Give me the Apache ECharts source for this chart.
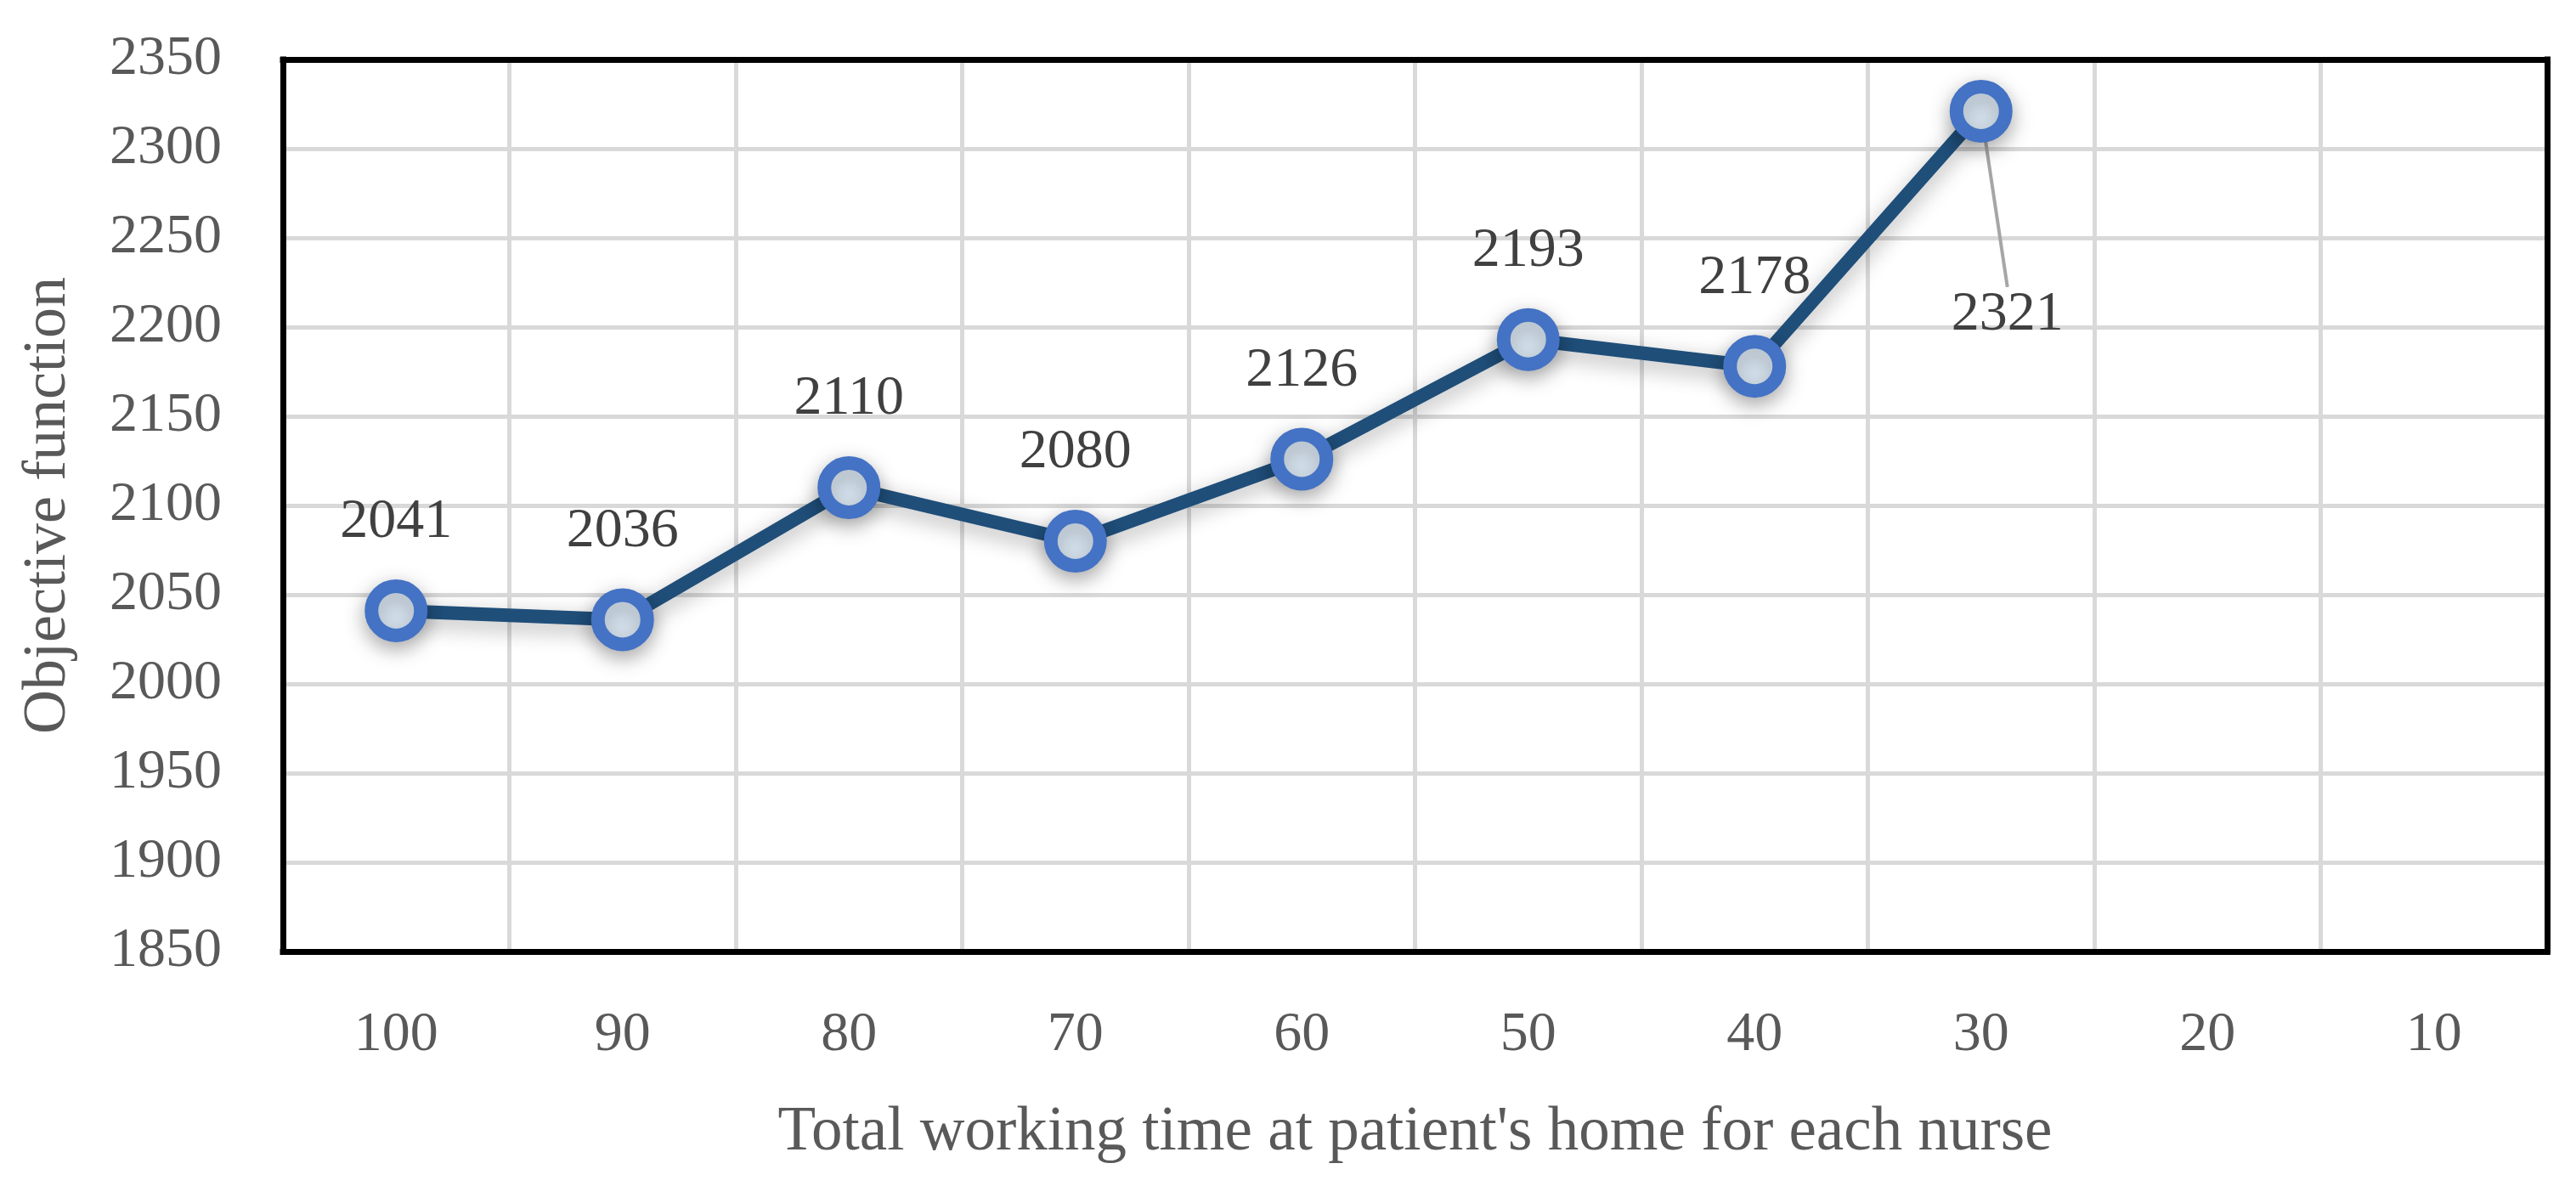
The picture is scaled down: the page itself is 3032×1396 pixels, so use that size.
<!DOCTYPE html>
<html>
<head>
<meta charset="utf-8">
<script src="https://cdn.jsdelivr.net/npm/echarts@6/dist/echarts.min.js"></script>
<style>
  html, body { margin: 0; padding: 0; background: #fff; }
  #chart { width: 3032px; height: 1396px; }
</style>
</head>
<body>
<div id="chart"></div>
<script>
// 数据
const categories = ['100', '90', '80', '70', '60', '50', '40', '30', '20', '10'];
const objectiveValues = [2041, 2036, 2110, 2080, 2126, 2193, 2178, 2321];
const yTicks = { min: 1850, max: 2350, step: 50 };

const fontFamily = '"Palatino Linotype", "Book Antiqua", "Liberation Serif", serif';
const frameLine = { show: true, lineStyle: { color: '#000', width: 7, cap: 'square' } };

const chart = echarts.init(document.getElementById('chart'));

// 最后一个点的标签放在右下方，带引导线
const seriesData = objectiveValues.map((v, i) => {
  if (i === objectiveValues.length - 1) {
    return { value: v, labelLine: { show: true } };
  }
  return v;
});

const option = {
  animation: false,
  grid: {
    left: 333,
    right: 34,
    top: 70,
    bottom: 276
  },
  xAxis: [{
    type: 'category',
    data: categories,
    boundaryGap: true,
    name: "Total working time at patient's home for each nurse",
    nameLocation: 'middle',
    nameGap: 177,
    nameTextStyle: { fontFamily, fontSize: 73, color: '#595959' },
    axisLine: { show: false },
    axisTick: { show: false },
    axisLabel: { fontFamily, fontSize: 66, color: '#595959', margin: 66 },
    splitLine: { show: true, lineStyle: { color: '#d9d9d9', width: 5 } }
  }, {
    // 边框：底部
    type: 'category',
    data: categories,
    position: 'bottom',
    axisLine: frameLine,
    axisTick: { show: false },
    axisLabel: { show: false },
    splitLine: { show: false },
    z: 5
  }, {
    // 边框：顶部
    type: 'category',
    data: categories,
    position: 'top',
    axisLine: frameLine,
    axisTick: { show: false },
    axisLabel: { show: false },
    splitLine: { show: false },
    z: 5
  }],
  yAxis: [{
    type: 'value',
    min: yTicks.min,
    max: yTicks.max,
    interval: yTicks.step,
    name: 'Objective function',
    nameLocation: 'middle',
    nameGap: 240,
    nameTextStyle: { fontFamily, fontSize: 72, color: '#595959' },
    axisLine: { show: false },
    axisTick: { show: false },
    axisLabel: {
      fontFamily, fontSize: 66, color: '#595959', margin: 72,
      formatter: (v) => String(v)
    },
    splitLine: { show: true, lineStyle: { color: '#d9d9d9', width: 5 } }
  }, {
    // 边框：左侧
    type: 'value',
    min: yTicks.min,
    max: yTicks.max,
    interval: yTicks.step,
    position: 'left',
    axisLine: frameLine,
    axisTick: { show: false },
    axisLabel: { show: false },
    splitLine: { show: false },
    z: 5
  }, {
    // 边框：右侧
    type: 'value',
    min: yTicks.min,
    max: yTicks.max,
    interval: yTicks.step,
    position: 'right',
    axisLine: frameLine,
    axisTick: { show: false },
    axisLabel: { show: false },
    splitLine: { show: false },
    z: 5
  }],
  series: [{
    type: 'line',
    data: seriesData,
    symbol: 'circle',
    symbolSize: 58,
    lineStyle: {
      color: '#1f4e79',
      width: 16,
      shadowColor: 'rgba(0,0,0,0.3)',
      shadowBlur: 26,
      shadowOffsetY: 8
    },
    itemStyle: {
      color: '#deebf7',
      borderColor: '#4472c4',
      borderWidth: 16,
      shadowColor: 'rgba(0,0,0,0.3)',
      shadowBlur: 26,
      shadowOffsetY: 8
    },
    label: {
      show: true,
      position: 'top',
      distance: 34,
      fontFamily,
      fontSize: 66,
      color: '#404040'
    },
    labelLine: {
      lineStyle: { color: '#a6a6a6', width: 4 }
    },
    labelLayout: (params) => {
      if (params.dataIndex === objectiveValues.length - 1) {
        return { dx: 31, dy: 344 };
      }
      return {};
    },
    z: 6
  }]
};

chart.setOption(option);
</script>
</body>
</html>
